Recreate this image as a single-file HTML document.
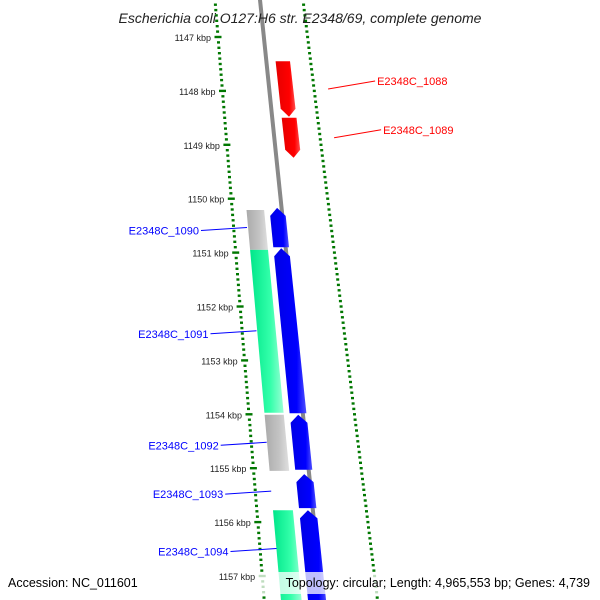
<!DOCTYPE html>
<html><head><meta charset="utf-8"><style>
body{margin:0;background:#fff}
svg{display:block;font-family:"Liberation Sans",sans-serif}
</style></head><body>
<svg id="c" width="600" height="600" viewBox="0 0 600 600">
<defs>
<linearGradient id="gb" x1="0" x2="1"><stop offset="0" stop-color="#0000e6"/><stop offset="0.7" stop-color="#0000ff"/><stop offset="1" stop-color="#5050ff"/></linearGradient>
<linearGradient id="gg" x1="0" x2="1"><stop offset="0" stop-color="#00e68a"/><stop offset="0.6" stop-color="#33ffaa"/><stop offset="1" stop-color="#99ffd5"/></linearGradient>
<linearGradient id="gy" x1="0" x2="1"><stop offset="0" stop-color="#aaaaaa"/><stop offset="0.6" stop-color="#c4c4c4"/><stop offset="1" stop-color="#e0e0e0"/></linearGradient>
<linearGradient id="gr" x1="0" x2="1"><stop offset="0" stop-color="#e60000"/><stop offset="0.7" stop-color="#ff0000"/><stop offset="1" stop-color="#ff5050"/></linearGradient>
</defs>
<g id="marks"></g>
<text x="300" y="23" text-anchor="middle" font-size="14" font-style="italic" fill="#222">Escherichia coli O127:H6 str. E2348/69, complete genome</text>
<rect x="258" y="572" width="336" height="22" fill="#fff" opacity="0.75"/>
<text x="8" y="587" font-size="12.5" fill="#000">Accession: NC_011601</text>
<text x="590" y="587" font-size="12.5" fill="#000" text-anchor="end">Topology: circular; Length: 4,965,553 bp; Genes: 4,739</text>
</svg>
<script>
const tickKbp=[1147,1148,1149,1150,1151,1152,1153,1154,1155,1156,1157];
const fwdNames=["E2348C_1088","E2348C_1089"];
const fwdStart=[1147.45,1148.50];
const fwdEnd=[1148.48,1149.24];
const revNames=["E2348C_1090","E2348C_1091","E2348C_1092","E2348C_1093","E2348C_1094"];
const revStart=[1150.17,1150.92,1154.01,1155.11,1155.78];
const revEnd=[1150.90,1153.98,1155.03,1155.74,1157.6];
const orfStart=[1150.21,1150.95,1154.01,1155.78];
const orfEnd=[1150.95,1153.97,1155.05,1157.6];
const orfType=["gray","green","gray","green"];

const svg=document.getElementById('c');
const g=document.getElementById('marks');
const NS="http://www.w3.org/2000/svg";
function yOf(p){return 37+(p-1147)*53.9;}
function slope(x0){return 0.082+(x0-215)*0.00048;}
function xOf(x0,y){return x0+slope(x0)*y;}
function pt(x0,y){return xOf(x0,y).toFixed(1)+","+y.toFixed(1);}
function mk(tag,attrs){const e=document.createElementNS(NS,tag);for(const k in attrs)e.setAttribute(k,attrs[k]);g.appendChild(e);return e;}

// backbone
{const e=mk('path',{d:"M"+pt(260,-5)+" L"+pt(260,605),stroke:"#888",'stroke-width':4,fill:"none"});

}

// tick rings
function ring(x0,majorOffset,name){
  for(let p=1146.4;p<=1157.7;p+=0.1){
    const rp=Math.round(p*10)/10;
    const isMaj=Math.abs((rp-majorOffset)-Math.round(rp-majorOffset))<0.01;
    const y=yOf(rp);
    const x=xOf(x0,y);
    const w=isMaj?7:3;
    const e=mk('rect',{x:(x-w/2).toFixed(1),y:(y-1.2).toFixed(1),width:w,height:2.4,fill:"#007700"});
    
    
  }
}
ring(215,0,'left-ring');
ring(303,0.72,'right-ring');

// tick labels
tickKbp.forEach(k=>{
  const y=yOf(k);
  const t=mk('text',{x:(xOf(215,y)-7).toFixed(1),y:(y+4).toFixed(1),'font-size':9,fill:"#222",'text-anchor':"end"});
  t.textContent=k+" kbp";
  
  
});

function block(x0,w,p1,p2,fill,arrow){
  const y1=yOf(p1),y2=yOf(p2),h=8;
  let d;
  const L=x0-w/2,R=x0+w/2;
  if(arrow==='up'){
    d="M"+pt(L,y1+h)+" L"+pt(x0,y1)+" L"+pt(R,y1+h)+" L"+pt(R,y2)+" L"+pt(L,y2)+"Z";
  }else if(arrow==='down'){
    d="M"+pt(L,y1)+" L"+pt(R,y1)+" L"+pt(R,y2-h)+" L"+pt(x0,y2)+" L"+pt(L,y2-h)+"Z";
  }else{
    d="M"+pt(L,y1)+" L"+pt(R,y1)+" L"+pt(R,y2)+" L"+pt(L,y2)+"Z";
  }
  return mk('path',{d:d,fill:fill});
}
orfStart.forEach((s,i)=>{
  const e=block(236,16,s,orfEnd[i],orfType[i]==='gray'?'url(#gy)':'url(#gg)',null);
  
  
});
revStart.forEach((s,i)=>{
  const e=block(256,14,s,revEnd[i],'url(#gb)','up');
  
  
  const yt=(yOf(s)+yOf(Math.min(revEnd[i],1157.2)))/2;
  const x2=xOf(236,yt)-10;
  const l=mk('line',{x1:(x2-46).toFixed(1),y1:(yt+3).toFixed(1),x2:x2.toFixed(1),y2:yt.toFixed(1),stroke:"#0000ff",'stroke-width':1});
  
  
  const t=mk('text',{x:(x2-48).toFixed(1),y:(yt+7).toFixed(1),'font-size':11,fill:"#0000ff",'text-anchor':"end"});
  t.textContent=revNames[i];
  
  
});
fwdStart.forEach((s,i)=>{
  const e=block(276,14,s,fwdEnd[i],'url(#gr)','down');
  
  
  const yt=(yOf(s)+yOf(fwdEnd[i]))/2;
  const x1=xOf(303,yt)+14;
  const l=mk('line',{x1:x1.toFixed(1),y1:yt.toFixed(1),x2:(x1+47).toFixed(1),y2:(yt-8).toFixed(1),stroke:"#ff0000",'stroke-width':1});
  
  
  const t=mk('text',{x:(x1+49).toFixed(1),y:(yt-4).toFixed(1),'font-size':11,fill:"#ff0000"});
  t.textContent=fwdNames[i];
  
  
});
</script>
</body></html>
